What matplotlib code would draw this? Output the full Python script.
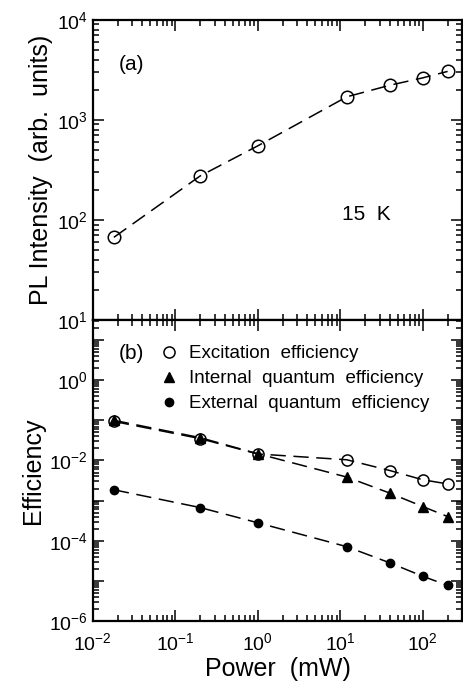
import numpy as np
import matplotlib
matplotlib.use('agg')
import matplotlib.pyplot as plt
from matplotlib.ticker import LogLocator, FuncFormatter, NullFormatter

plt.rcParams['font.family'] = ['Liberation Sans', 'DejaVu Sans']
plt.rcParams['mathtext.fontset'] = 'custom'
plt.rcParams['mathtext.rm'] = 'Liberation Sans'
plt.rcParams['mathtext.it'] = 'Liberation Sans'

# power (mW)
power = [0.018, 0.2, 1.0, 12, 40, 100, 200]

# (a) PL intensity at 15 K
pl_intensity = [67, 275, 550, 1700, 2220, 2630, 3050]

# (b) efficiencies
exc_eff = [0.094, 0.035, 0.0145, 0.0104, 0.0056, 0.0033, 0.0026]
int_qe = [0.1, 0.037, 0.0147, 0.00385, 0.00153, 0.00071, 0.0004]
ext_qe = [0.00186, 0.00067, 0.00028, 7.1e-5, 2.8e-5, 1.3e-5, 7.7e-6]

fig = plt.figure(figsize=(4.64, 6.83), dpi=100)
ax1 = fig.add_axes([0.2, 0.5315, 0.796, 0.4395])
ax2 = fig.add_axes([0.2, 0.0908, 0.796, 0.4407], sharex=ax1)

dash = (10, 5)

ax1.plot(power, pl_intensity, color='black', lw=1.1, dashes=dash,
         marker='o', ms=9, mfc='none', mec='black', mew=1.1)

ax2.plot(power, exc_eff, color='black', lw=1.1, dashes=dash,
         marker='o', ms=8, mfc='none', mec='black', mew=1.1,
         label='Excitation  efficiency')
ax2.plot(power, int_qe, color='black', lw=1.1, dashes=dash,
         marker='^', ms=6.5, mfc='black', mec='black',
         label='Internal  quantum  efficiency')
ax2.plot(power, ext_qe, color='black', lw=1.1, dashes=dash,
         marker='o', ms=6, mfc='black', mec='black',
         label='External  quantum  efficiency')

for ax in (ax1, ax2):
    ax.set_xscale('log')
    ax.set_yscale('log')
    ax.set_xlim(0.01, 300)
    ax.tick_params(which='both', direction='in', top=True, right=True,
                   labelsize=14, width=1.1)
    ax.tick_params(which='major', length=8)
    ax.tick_params(which='minor', length=4)
    ax.tick_params(axis='x', pad=8)
    ax.xaxis.set_major_locator(LogLocator(base=10, numticks=20))
    ax.xaxis.set_minor_locator(LogLocator(base=10, subs=np.arange(2, 10), numticks=20))
    ax.yaxis.set_major_locator(LogLocator(base=10, numticks=20))
    ax.yaxis.set_minor_locator(LogLocator(base=10, subs=np.arange(2, 10), numticks=20))
    for s in ax.spines.values():
        s.set_linewidth(1.6)

ax1.set_ylim(10, 1e4)
ax1.tick_params(labelbottom=False)
ax1.set_ylabel('PL Intensity  (arb.  units)', fontsize=18, labelpad=3)
ax1.text(0.07, 0.85, '(a)', transform=ax1.transAxes, fontsize=15, va='center')
ax1.text(0.675, 0.35, '15  K', transform=ax1.transAxes, fontsize=15, va='center')

ax2.set_ylim(1e-6, 10 ** 1.5)


def even_fmt(v, pos):
    e = int(round(np.log10(v)))
    if e % 2 == 0:
        return r'$\mathdefault{10^{%d}}$' % e
    return ''


ax2.yaxis.set_major_formatter(FuncFormatter(even_fmt))
ax2.yaxis.set_minor_formatter(NullFormatter())
ax2.set_ylabel('Efficiency', fontsize=18, labelpad=3)
ax2.set_xlabel('Power  (mW)', fontsize=18, labelpad=2)
ax2.text(0.07, 0.888, '(b)', transform=ax2.transAxes, fontsize=15, va='center')
ax2.legend(loc='upper left', bbox_to_anchor=(0.15, 0.96), frameon=False,
           fontsize=13.5, handlelength=0.8, handletextpad=0.7,
           labelspacing=0.42, markerscale=1.0, borderaxespad=0.3)
for line in ax2.get_legend().get_lines():
    line.set_linestyle('none')

fig.savefig('out.png', dpi=100)
